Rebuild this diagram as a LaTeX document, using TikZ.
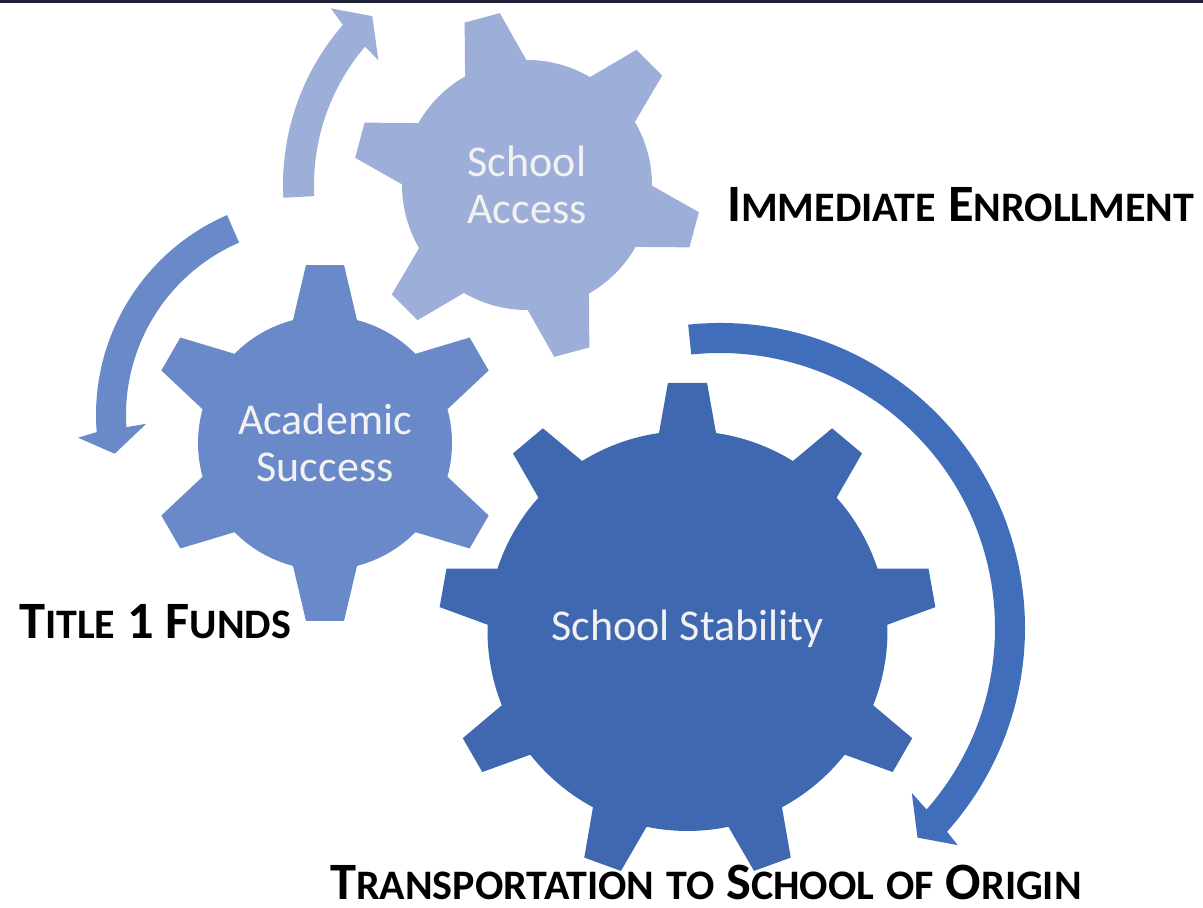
\documentclass[tikz,border=0pt]{standalone}
\usepackage{fontspec}
\setmainfont{Carlito}
\makeatletter
\newcommand{\lowcaps}{\fontsize{\fpeval{0.8*\f@size}}{\f@baselineskip}\selectfont}
\makeatother

\begin{document}
\begin{tikzpicture}[x=1pt, y=1pt]
	\definecolor{NAVY_BAR}{RGB}{31, 31, 56}
	\definecolor{LIGHT_BLUE}{RGB}{157, 174, 216}
	\definecolor{MID_BLUE}{RGB}{106, 137, 200}
	\definecolor{DARK_BLUE}{RGB}{63, 104, 177}
	\definecolor{ARROW_BLUE}{RGB}{64, 110, 187}
	\definecolor{GEAR_TEXT}{RGB}{242, 242, 242}
	\tikzset{
		gear text/.style={text=GEAR_TEXT, align=center, inner sep=0pt, font=\fontsize{44}{47}\selectfont},
		side label/.style={anchor=base west, inner sep=0pt, text=black, font=\fontsize{52.5}{60}\selectfont\bfseries}
	}
	\useasboundingbox (0,0) rectangle (1203,908);
	\fill[NAVY_BAR] (0,905) rectangle (1203,908);

	% turning arrows
	\begin{scope}[shift={(527,723)}]
		\fill[LIGHT_BLUE] (183:244pt) arc[start angle=183, end angle=139, radius=244pt] -- (138:264pt)
			-- (132.5:229pt) -- (140:194pt) -- (139.5:213pt) arc[start angle=139.5, end angle=183, radius=213pt] -- cycle;
	\end{scope}

	\begin{scope}[shift={(314,493)}]
		\fill[MID_BLUE] (113.5:218pt) arc[start angle=113.5, end angle=184.5, radius=218pt] -- (185.5:237pt)
			-- (191:203pt) -- (183:168pt) -- (183.7:188pt) arc[start angle=183.7, end angle=113.5, radius=188pt] -- cycle;
	\end{scope}

	\begin{scope}[shift={(720,280)}]
		\fill[ARROW_BLUE] (96:305pt) arc[start angle=96, end angle=-41.9, radius=305pt] -- (-42.4:322pt)
			-- (-46.7:288pt) -- (-40.7:253pt) -- (-41.3:275pt) arc[start angle=-41.3, end angle=96, radius=275pt] -- cycle;
	\end{scope}

	% gears
	\begin{scope}[shift={(527,723)}]
		\fill[LIGHT_BLUE] (90.3:125pt) \foreach \a in {105,165,...,405} {
			-- ({\a-14.7}:125pt) -- ({\a-6}:174pt) -- ({\a+6}:174pt) -- ({\a+14.7}:125pt)
			arc[start angle={\a+14.7}, end angle={\a+45.3}, radius=125pt] } -- cycle;
	\end{scope}

	\begin{scope}[shift={(325,465)}]
		\fill[MID_BLUE] (75.4:127pt) \foreach \a in {90,150,...,390} {
			-- ({\a-14.6}:127pt) -- ({\a-6.1}:179pt) -- ({\a+6.1}:179pt) -- ({\a+14.6}:127pt)
			arc[start angle={\a+14.6}, end angle={\a+45.4}, radius=127pt] } -- cycle;
	\end{scope}

	\begin{scope}[shift={(687.5,277)}]
		\fill[DARK_BLUE] (81.8:200pt) \foreach \a in {90,130,...,410} {
			-- ({\a-8.2}:200pt) -- ({\a-4.5}:249pt) -- ({\a+4.5}:249pt) -- ({\a+8.2}:200pt)
			arc[start angle={\a+8.2}, end angle={\a+31.8}, radius=200pt] } -- cycle;
	\end{scope}

	\node[gear text] (access) at (527,723) {School\\Access};
	\node[gear text] (success) at (325,465) {Academic\\Success};
	\node[gear text] (stability) at (687.5,279) {School Stability};

	% labels
	\node[side label] (enrollment) at (727,686.5) {I{\lowcaps MMEDIATE} E{\lowcaps NROLLMENT}};
	\node[side label] (funds) at (19,269) {T{\lowcaps ITLE} 1 F{\lowcaps UNDS}};
	\node[side label] (transport) at (330,8) {T{\lowcaps RANSPORTATION} {\lowcaps TO} S{\lowcaps CHOOL} {\lowcaps OF} O{\lowcaps RIGIN}};
\end{tikzpicture}
\end{document}
